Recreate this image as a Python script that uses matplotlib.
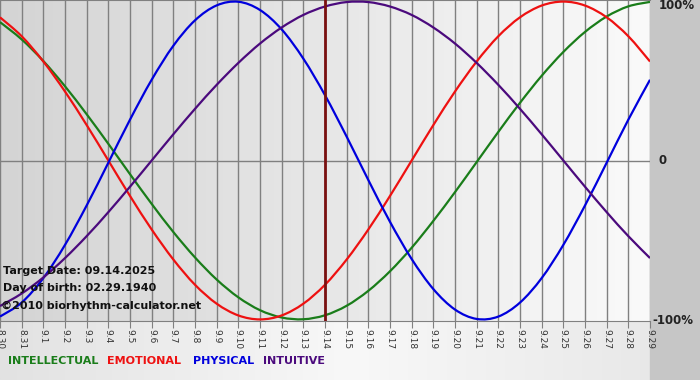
import numpy as np
import matplotlib.pyplot as plt
from matplotlib.colors import LinearSegmentedColormap
from matplotlib.path import Path
from matplotlib.patches import PathPatch

# days shown on the x axis (8.30 .. 9.29)
dias = ['8.30', '8.31'] + ['9.%d' % d for d in range(1, 30)]

# biorhythm values, one per day
intelectual = [0.871, 0.762, 0.626, 0.467, 0.291, 0.105, -0.086, -0.273, -0.450, -0.610,
               -0.749, -0.861, -0.942, -0.988, -0.999, -0.974, -0.914, -0.820, -0.697, -0.549,
               -0.380, -0.199, -0.010, 0.180, 0.363, 0.533, 0.683, 0.809, 0.906, 0.970, 0.998]
emocional = [0.901, 0.782, 0.623, 0.434, 0.223, 0.000, -0.223, -0.434, -0.623, -0.782,
             -0.901, -0.975, -1.000, -0.975, -0.901, -0.782, -0.623, -0.434, -0.223, 0.000,
             0.223, 0.434, 0.623, 0.782, 0.901, 0.975, 1.000, 0.975, 0.901, 0.782, 0.623]
fisico = [-0.982, -0.894, -0.740, -0.531, -0.283, -0.014, 0.257, 0.508, 0.722, 0.882,
          0.976, 0.999, 0.947, 0.825, 0.641, 0.411, 0.150, -0.123, -0.386, -0.620,
          -0.809, -0.938, -0.997, -0.982, -0.894, -0.740, -0.531, -0.283, -0.014, 0.257, 0.508]
intuitivo = [-0.916, -0.837, -0.736, -0.614, -0.476, -0.325, -0.165, 0.000, 0.165, 0.325,
             0.476, 0.614, 0.736, 0.837, 0.916, 0.969, 0.997, 0.997, 0.969, 0.916,
             0.837, 0.736, 0.614, 0.476, 0.325, 0.165, 0.000, -0.165, -0.325, -0.476, -0.614]
dia_alvo = 15  # 9.14

cores = {'INTELLECTUAL': '#1a7d1a', 'EMOTIONAL': '#ee1111',
         'PHYSICAL': '#0000dd', 'INTUITIVE': '#4b0a7d'}


def curva_suave(ax, x, y, cor):
    # caminho bezier passando pelos pontos diarios (catmull-rom)
    x = np.asarray(x, float)
    y = np.asarray(y, float)
    verts = [(x[0], y[0])]
    codes = [Path.MOVETO]
    n = len(x)
    for i in range(n - 1):
        x0, y0 = (x[i - 1], y[i - 1]) if i > 0 else (x[i], y[i])
        x3, y3 = (x[i + 2], y[i + 2]) if i + 2 < n else (x[i + 1], y[i + 1])
        c1 = (x[i] + (x[i + 1] - x0) / 6, y[i] + (y[i + 1] - y0) / 6)
        c2 = (x[i + 1] - (x3 - x[i]) / 6, y[i + 1] - (y3 - y[i]) / 6)
        verts += [c1, c2, (x[i + 1], y[i + 1])]
        codes += [Path.CURVE4] * 3
    ax.add_patch(PathPatch(Path(verts, codes), facecolor='none', edgecolor=cor,
                           lw=1.6, zorder=3))


W, H = 700, 380
fig = plt.figure(figsize=(W / 100, H / 100), dpi=100)

# fundo da figura
fundo = fig.add_axes([0, 0, 1, 1], zorder=0)
fundo.axis('off')
cmap_fundo = LinearSegmentedColormap.from_list('f', ['#e2e2e2', '#f8f8f8', '#e6e6e6'])
fundo.imshow(np.linspace(0, 1, 256).reshape(1, -1), cmap=cmap_fundo, aspect='auto',
             extent=[0, 1, 0, 1])
fundo.add_patch(plt.Rectangle((650 / W, 0), 50 / W, 1, color='#c6c6c6'))
fundo.set_xlim(0, 1)
fundo.set_ylim(0, 1)

# area do grafico
ax = fig.add_axes([0, 59 / H, 650 / W, 321 / H], zorder=1)
x = np.arange(len(dias))
cmap_ax = LinearSegmentedColormap.from_list('a', ['#d4d4d4', '#fafafa'])
ax.imshow(np.linspace(0, 1, 256).reshape(1, -1), cmap=cmap_ax, aspect='auto',
          extent=[0, 30, -1.01, 1.01], zorder=0)

for xi in x:
    ax.axvline(xi, color='#808080', lw=1, zorder=1)
ax.axhline(0, color='#808080', lw=1, zorder=1)

curva_suave(ax, x, intelectual, cores['INTELLECTUAL'])
curva_suave(ax, x, emocional, cores['EMOTIONAL'])
curva_suave(ax, x, fisico, cores['PHYSICAL'])
curva_suave(ax, x, intuitivo, cores['INTUITIVE'])
ax.axvline(dia_alvo, color='#7a1010', lw=2, zorder=4)

ax.set_xlim(0, 30)
ax.set_ylim(-1.01, 1.01)
ax.set_xticks(x)
ax.set_xticklabels(dias, rotation=-90, fontsize=6.5, color='#333333')
ax.tick_params(axis='x', length=5, color='#808080', pad=1)
ax.set_yticks([])
for lado in ['left', 'right']:
    ax.spines[lado].set_visible(False)
for lado in ['top', 'bottom']:
    ax.spines[lado].set_color('#808080')

# rotulos da direita
ax.text(1.013, 0.982, '100%', transform=ax.transAxes, fontsize=8.5, fontweight='bold',
        color='#222222', va='center', ha='left')
ax.text(1.013, 0.5, '0', transform=ax.transAxes, fontsize=8.5, fontweight='bold',
        color='#222222', va='center', ha='left')
ax.text(1.004, 0.0, '-100%', transform=ax.transAxes, fontsize=8.5, fontweight='bold',
        color='#222222', va='center', ha='left')

# textos no canto
ax.text(0.005, 0.156, 'Target Date: 09.14.2025', transform=ax.transAxes, fontsize=8,
        fontweight='bold', color='#111111', va='center', zorder=5)
ax.text(0.005, 0.103, 'Day of birth: 02.29.1940', transform=ax.transAxes, fontsize=8,
        fontweight='bold', color='#111111', va='center', zorder=5)
ax.text(0.002, 0.047, '\u00a92010 biorhythm-calculator.net', transform=ax.transAxes,
        fontsize=8, fontweight='bold', color='#111111', va='center', zorder=5)

# legenda em texto
pos_leg = [8, 107, 193, 263]
for (nome, cor), px in zip(cores.items(), pos_leg):
    fig.text(px / W, (H - 361) / H, nome, fontsize=8, fontweight='bold', color=cor,
             va='center', ha='left')

plt.savefig('out.png', dpi=100)
